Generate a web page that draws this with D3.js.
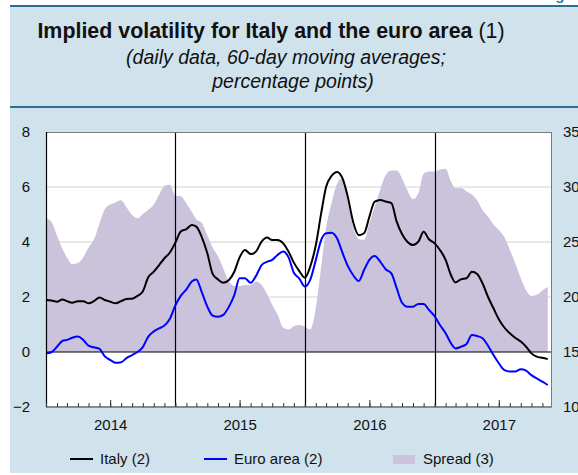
<!DOCTYPE html>
<html lang="en">
<head>
<meta charset="utf-8">
<title>Implied volatility for Italy and the euro area</title>
<style>
    body { margin: 0; background: #fff; }
    svg text { font-family: "Liberation Sans", Arial, sans-serif; }
</style>
</head>
<body>
<svg id="chart" width="578" height="475"></svg>
<script src="https://cdn.jsdelivr.net/npm/d3@7/dist/d3.min.js"></script>
<script>
    // half-monthly readings (1st and 16th), Jan 2014 - Nov 2017
    var italy = [
        1.89, 1.87, 1.83, 1.91, 1.85, 1.79, 1.85, 1.85, 1.77, 1.85,
        1.98, 1.89, 1.83, 1.77, 1.85, 1.93, 1.94, 2.04, 2.20, 2.71,
        2.92, 3.16, 3.41, 3.61, 3.98, 4.38, 4.47, 4.62, 4.56, 4.19,
        3.59, 2.84, 2.64, 2.52, 2.62, 2.92, 3.44, 3.71, 3.56, 3.65,
        4.01, 4.16, 4.07, 4.07, 3.95, 3.65, 3.25, 2.95, 2.70, 3.10,
        3.89, 5.04, 6.01, 6.40, 6.55, 6.32, 5.65, 4.74, 4.25, 4.32,
        4.92, 5.47, 5.53, 5.47, 5.41, 4.74, 4.29, 4.01, 3.89, 4.01,
        4.37, 4.10, 3.95, 3.71, 3.35, 2.80, 2.53, 2.64, 2.68, 2.92,
        2.84, 2.50, 1.99, 1.59, 1.19, 0.90, 0.68, 0.52, 0.38, 0.19,
        -0.05, -0.17, -0.21, -0.26
    ];
    var euroArea = [
        -0.05, -0.01, 0.19, 0.40, 0.44, 0.52, 0.56, 0.44, 0.23, 0.17,
        0.11, -0.16, -0.29, -0.39, -0.37, -0.22, -0.11, 0.00, 0.18, 0.55,
        0.75, 0.86, 0.96, 1.20, 1.70, 2.04, 2.28, 2.56, 2.64, 2.19,
        1.65, 1.32, 1.28, 1.35, 1.65, 2.07, 2.68, 2.68, 2.52, 2.76,
        3.16, 3.28, 3.35, 3.53, 3.65, 3.44, 2.88, 2.68, 2.38, 2.62,
        3.35, 4.07, 4.32, 4.34, 4.13, 3.61, 3.13, 2.80, 2.58, 2.98,
        3.35, 3.49, 3.28, 3.01, 2.86, 2.32, 1.79, 1.65, 1.65, 1.75,
        1.75, 1.53, 1.30, 0.98, 0.68, 0.32, 0.13, 0.19, 0.29, 0.62,
        0.58, 0.50, 0.22, -0.11, -0.41, -0.65, -0.71, -0.71, -0.63, -0.68,
        -0.84, -0.96, -1.08, -1.20
    ];
    var spread = [
        27.15, 26.85, 25.6, 24.4, 23.6, 23.0, 23.1, 23.6, 24.5, 25.2,
        26.7, 28.0, 28.4, 28.6, 28.8, 28.15, 27.45, 27.15, 27.55, 27.9,
        28.4, 29.3, 30.1, 30.2, 29.2, 29.15, 28.5, 27.75, 27.05, 26.75,
        25.6, 24.5, 23.7, 22.6, 21.4, 21.0, 21.0, 21.1, 21.1, 21.4,
        21.1, 20.3, 19.3, 18.4, 17.2, 17.05, 17.35, 17.45, 17.3, 17.05,
        19.0, 22.75, 26.25, 28.5, 30.3, 30.8, 28.8, 26.4, 25.25, 25.2,
        26.7, 28.2, 29.8, 31.1, 31.5, 31.5, 30.8, 29.7, 28.9, 29.4,
        31.2, 31.4, 31.4, 31.6, 31.65, 30.5, 29.9, 29.9, 29.6, 29.3,
        28.8, 27.9, 27.3, 26.6, 26.1, 25.5, 24.3, 23.1, 21.7, 20.6,
        20.1, 20.2, 20.6, 20.9
    ];
    var leftTicks = [-2, 0, 2, 4, 6, 8];
    var rightTicks = [10, 15, 20, 25, 30, 35];
    var years = [2014, 2015, 2016, 2017];
    var legendLabels = ["Italy (2)", "Euro area (2)", "Spread (3)"];

    var dates = [];
    d3.timeMonth.range(new Date(2014, 0, 1), new Date(2017, 11, 1)).forEach(function(m) {
        dates.push(m);
        dates.push(new Date(m.getFullYear(), m.getMonth(), 16));
    });
    var dataset = dates.map(function(d, i) {
        return { date: d, italy: italy[i], euro: euroArea[i], spread: spread[i] };
    });

    var plotLeft = 46, plotRight = 552, plotTop = 132, plotBottom = 407;
    var svg = d3.select("#chart");

    var x = d3.scaleTime()
        .domain([new Date(2014, 0, 1), new Date(2017, 10, 28)])
        .range([plotLeft, plotRight]);
    var yL = d3.scaleLinear().domain([-2, 8]).range([plotBottom, plotTop]);
    var yR = d3.scaleLinear().domain([10, 35]).range([plotBottom, plotTop]);

    // background and header
    svg.append("rect").attr("x", 10).attr("y", 6).attr("width", 568).attr("height", 467)
        .attr("fill", "#d0e2ec");
    svg.append("rect").attr("x", 10).attr("y", 5).attr("width", 568).attr("height", 2)
        .attr("fill", "#27708f");
    svg.append("rect").attr("x", 10).attr("y", 106).attr("width", 568).attr("height", 2)
        .attr("fill", "#27708f");
    svg.append("text").attr("x", 542).attr("y", 0).attr("font-size", "15px")
        .attr("font-weight", "bold").attr("fill", "#2a78b0").text("Figure");

    var title = svg.append("text").attr("x", 271).attr("y", 38)
        .attr("text-anchor", "middle").attr("font-size", "21.4px").attr("fill", "#111");
    title.append("tspan").attr("font-weight", "bold").text("Implied volatility for Italy and the euro area");
    title.append("tspan").text(" (1)");
    var subX = [286, 293];
    svg.selectAll("text.sub")
        .data(["(daily data, 60-day moving averages;", "percentage points)"])
        .enter()
        .append("text")
        .attr("class", "sub")
        .attr("x", function(d, i) { return subX[i]; })
        .attr("y", function(d, i) { return 64 + i * 24; })
        .attr("text-anchor", "middle")
        .attr("font-size", "19.5px")
        .attr("font-style", "italic")
        .attr("fill", "#111")
        .text(function(d) { return d; });

    // plot area
    svg.append("rect").attr("x", plotLeft).attr("y", plotTop)
        .attr("width", plotRight - plotLeft).attr("height", plotBottom - plotTop).attr("fill", "#fff");

    svg.selectAll("line.grid")
        .data([2, 4, 6])
        .enter()
        .append("line")
        .attr("class", "grid")
        .attr("x1", plotLeft).attr("x2", plotRight)
        .attr("y1", function(d) { return yL(d); })
        .attr("y2", function(d) { return yL(d); })
        .attr("stroke", "#d2d2d2").attr("stroke-width", 1);

    var area = d3.area()
        .curve(d3.curveMonotoneX)
        .x(function(d) { return x(d.date); })
        .y0(yR(15))
        .y1(function(d) { return yR(d.spread); });
    svg.append("path").datum(dataset).attr("d", area).attr("fill", "#cbc2dc");

    // zero line and year separators
    svg.append("line").attr("x1", plotLeft).attr("x2", plotRight)
        .attr("y1", yL(0)).attr("y2", yL(0)).attr("stroke", "#000").attr("stroke-width", 1.2);
    svg.selectAll("line.year")
        .data(years.slice(1))
        .enter()
        .append("line")
        .attr("class", "year")
        .attr("x1", function(d) { return Math.round(x(new Date(d, 0, 1))) + 0.5; })
        .attr("x2", function(d) { return Math.round(x(new Date(d, 0, 1))) + 0.5; })
        .attr("y1", plotTop).attr("y2", plotBottom)
        .attr("stroke", "#000").attr("stroke-width", 1.2);

    var lineItaly = d3.line().curve(d3.curveMonotoneX)
        .x(function(d) { return x(d.date); })
        .y(function(d) { return yL(d.italy); });
    var lineEuro = d3.line().curve(d3.curveMonotoneX)
        .x(function(d) { return x(d.date); })
        .y(function(d) { return yL(d.euro); });
    svg.append("path").datum(dataset).attr("d", lineItaly)
        .attr("fill", "none").attr("stroke", "#000").attr("stroke-width", 2);
    svg.append("path").datum(dataset).attr("d", lineEuro)
        .attr("fill", "none").attr("stroke", "#0000ff").attr("stroke-width", 2);

    // frame
    svg.append("rect").attr("x", plotLeft + 0.5).attr("y", plotTop + 0.5)
        .attr("width", plotRight - plotLeft - 1).attr("height", plotBottom - plotTop)
        .attr("fill", "none").attr("stroke", "#7a7a7a").attr("stroke-width", 1);
    svg.append("line").attr("x1", plotLeft + 0.5).attr("x2", plotLeft + 0.5)
        .attr("y1", plotTop).attr("y2", plotBottom).attr("stroke", "#000").attr("stroke-width", 1.2);
    svg.append("line").attr("x1", plotLeft).attr("x2", plotRight)
        .attr("y1", plotBottom).attr("y2", plotBottom).attr("stroke", "#8a8a8a").attr("stroke-width", 2);

    // month ticks (longer at mid-year)
    svg.append("g")
        .attr("transform", "translate(0," + plotBottom + ")")
        .call(d3.axisBottom(x).ticks(d3.timeMonth.every(1)).tickSize(-4).tickFormat(""))
        .call(function(g) { g.select(".domain").remove(); })
        .selectAll("line").attr("stroke", "#333");
    svg.append("g")
        .attr("transform", "translate(0," + plotBottom + ")")
        .call(d3.axisBottom(x)
            .tickValues(years.map(function(d) { return new Date(d, 6, 1); }))
            .tickSize(-7).tickPadding(12)
            .tickFormat(d3.timeFormat("%Y")))
        .call(function(g) { g.select(".domain").remove(); })
        .call(function(g) {
            g.selectAll("line").attr("stroke", "#333");
            g.selectAll("text").attr("font-size", "15px").attr("fill", "#111")
                .attr("font-family", "Liberation Sans, Arial, sans-serif")
                .attr("y", 12);
        });

    // value axes
    svg.append("g")
        .attr("transform", "translate(" + plotLeft + ",0)")
        .call(d3.axisLeft(yL).tickValues(leftTicks).tickSize(0).tickPadding(16))
        .call(function(g) {
            g.select(".domain").remove();
            g.selectAll("text").attr("font-size", "15px").attr("fill", "#111")
                .attr("font-family", "Liberation Sans, Arial, sans-serif");
        });
    svg.append("g")
        .attr("transform", "translate(" + plotRight + ",0)")
        .call(d3.axisRight(yR).tickValues(rightTicks).tickSize(0).tickPadding(11))
        .call(function(g) {
            g.select(".domain").remove();
            g.selectAll("text").attr("font-size", "15px").attr("fill", "#111")
                .attr("font-family", "Liberation Sans, Arial, sans-serif");
        });

    // legend
    var legendX = [70, 204, 393];
    var legend = svg.selectAll("g.legend")
        .data(legendLabels)
        .enter()
        .append("g")
        .attr("class", "legend")
        .attr("transform", function(d, i) { return "translate(" + legendX[i] + ",459)"; });
    legend.each(function(d, i) {
        var g = d3.select(this);
        if (i < 2) {
            g.append("line").attr("x1", 0).attr("x2", 23).attr("y1", 0).attr("y2", 0)
                .attr("stroke", i === 0 ? "#000" : "#0000ff").attr("stroke-width", 2);
        } else {
            g.append("rect").attr("x", 0).attr("y", -4).attr("width", 22).attr("height", 9)
                .attr("fill", "#cbc2dc");
        }
    });
    legend.append("text")
        .attr("x", 30)
        .attr("y", 5)
        .attr("font-size", "15px")
        .attr("fill", "#111")
        .text(function(d) { return d; });
</script>
</body>
</html>
